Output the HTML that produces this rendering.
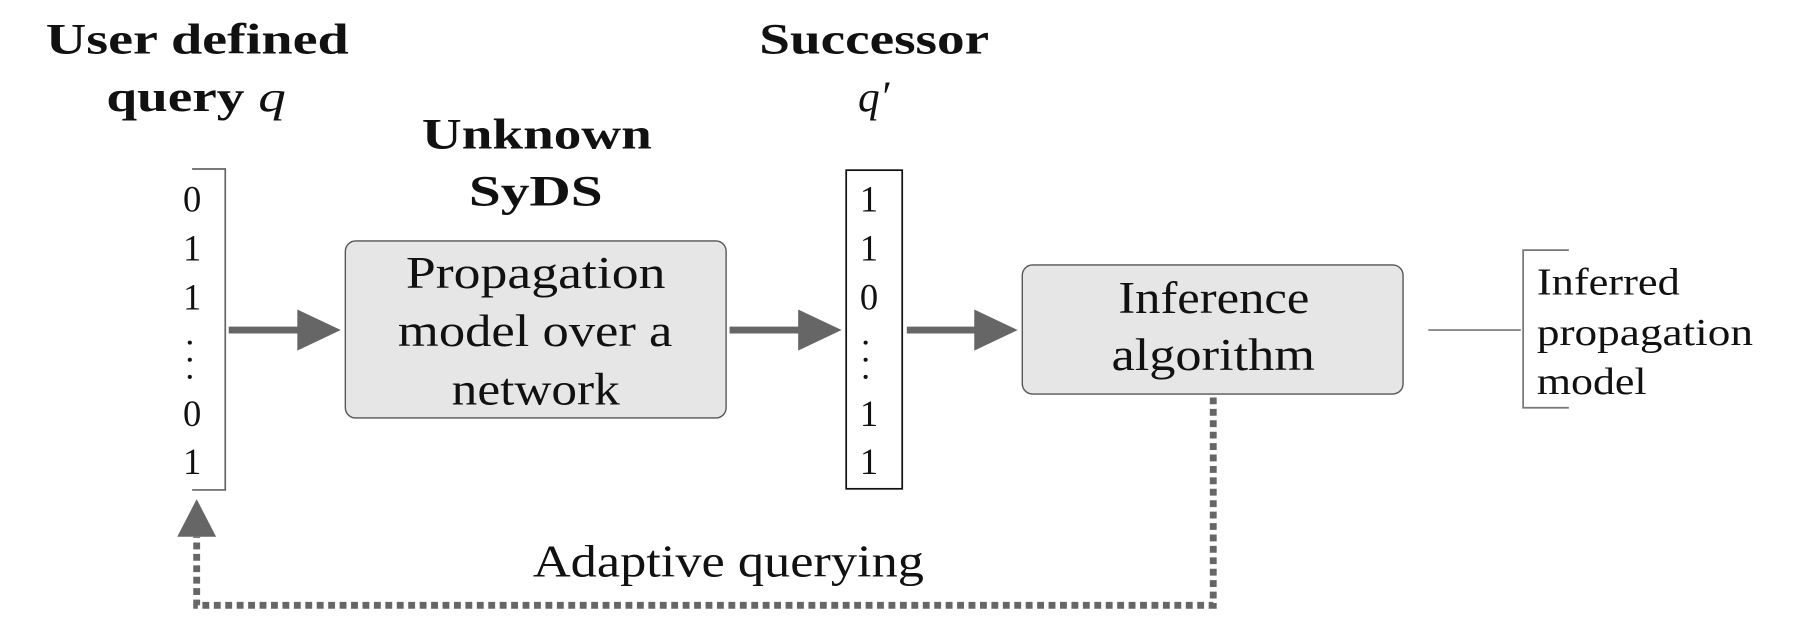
<!DOCTYPE html>
<html><head><meta charset="utf-8"><style>
html,body{margin:0;padding:0;background:#fff;}
svg{display:block;}
text{font-family:"Liberation Serif",serif;fill:#111;}
.b{font-weight:bold;}
</style></head><body>
<svg width="1793" height="619" viewBox="0 0 1568 542" preserveAspectRatio="none">
<g>
<text class="b" x="40" y="47" font-size="38" textLength="265" lengthAdjust="spacingAndGlyphs">User defined</text>
<text class="b" x="93" y="97" font-size="38" textLength="157" lengthAdjust="spacingAndGlyphs">query <tspan font-style="italic" font-weight="normal">q</tspan></text>
</g>
<g>
<text class="b" x="664" y="47" font-size="38" textLength="201" lengthAdjust="spacingAndGlyphs">Successor</text>
<text x="764" y="97" font-size="38" font-style="italic" text-anchor="middle">q′</text>
</g>
<g>
<text class="b" x="369" y="130" font-size="38" textLength="201" lengthAdjust="spacingAndGlyphs">Unknown</text>
<text class="b" x="410" y="180" font-size="38" textLength="117" lengthAdjust="spacingAndGlyphs">SyDS</text>
</g>
<g>
<polyline points="168,148 197,148 197,429 168,429" fill="none" stroke="#666" stroke-width="1.5"/>
<g font-size="32" text-anchor="middle">
<text x="168" y="185">0</text><text x="168" y="228">1</text><text x="168" y="271">1</text>
<text x="168" y="373">0</text><text x="168" y="415">1</text></g>
<circle cx="166" cy="300" r="1.8" fill="#111"/><circle cx="166" cy="315" r="1.8" fill="#111"/><circle cx="166" cy="330" r="1.8" fill="#111"/>
</g>
<g>
<rect x="740" y="149" width="49" height="279" fill="none" stroke="#111" stroke-width="1.5"/>
<g font-size="32" text-anchor="middle">
<text x="760" y="185">1</text><text x="760" y="228">1</text><text x="760" y="271">0</text>
<text x="760" y="373">1</text><text x="760" y="415">1</text></g>
<circle cx="757" cy="300" r="1.8" fill="#111"/><circle cx="757" cy="315" r="1.8" fill="#111"/><circle cx="757" cy="330" r="1.8" fill="#111"/>
</g>
<g fill="#666">
<rect x="200" y="286" width="62" height="6"/><polygon points="260,271 298,289 260,307"/>
<rect x="638" y="286" width="62" height="6"/><polygon points="698,271 736,289 698,307"/>
<rect x="793" y="286" width="62" height="6"/><polygon points="852,271 890,289 852,307"/>
</g>
<g>
<rect x="302" y="211" width="333" height="155" rx="9" fill="#e6e6e6" stroke="#555" stroke-width="1.2"/>
<g font-size="40"><text x="355" y="252" textLength="227" lengthAdjust="spacingAndGlyphs">Propagation</text><text x="348" y="303" textLength="240" lengthAdjust="spacingAndGlyphs">model over a</text><text x="395" y="354" textLength="147" lengthAdjust="spacingAndGlyphs">network</text></g>
</g>
<g>
<rect x="894" y="232" width="333" height="113" rx="9" fill="#e6e6e6" stroke="#555" stroke-width="1.2"/>
<g font-size="40"><text x="978" y="274" textLength="167" lengthAdjust="spacingAndGlyphs">Inference</text><text x="972" y="324" textLength="178" lengthAdjust="spacingAndGlyphs">algorithm</text></g>
</g>
<line x1="1249" y1="289" x2="1330" y2="289" stroke="#777" stroke-width="1.5"/>
<g>
<polyline points="1372,219 1332,219 1332,357 1372,357" fill="none" stroke="#777" stroke-width="1.5"/>
<g font-size="33"><text x="1344" y="258" textLength="125" lengthAdjust="spacingAndGlyphs">Inferred</text><text x="1344" y="302" textLength="189" lengthAdjust="spacingAndGlyphs">propagation</text><text x="1344" y="345" textLength="96" lengthAdjust="spacingAndGlyphs">model</text></g>
</g>
<g>
<polyline points="1061,348 1061,530 172,530 172,470" fill="none" stroke="#666" stroke-width="6" stroke-dasharray="6,4"/>
<polygon points="155,470 172,437 189,470" fill="#666"/>
<text x="466" y="505" font-size="40" textLength="342" lengthAdjust="spacingAndGlyphs">Adaptive querying</text>
</g>
</svg>
</body></html>
